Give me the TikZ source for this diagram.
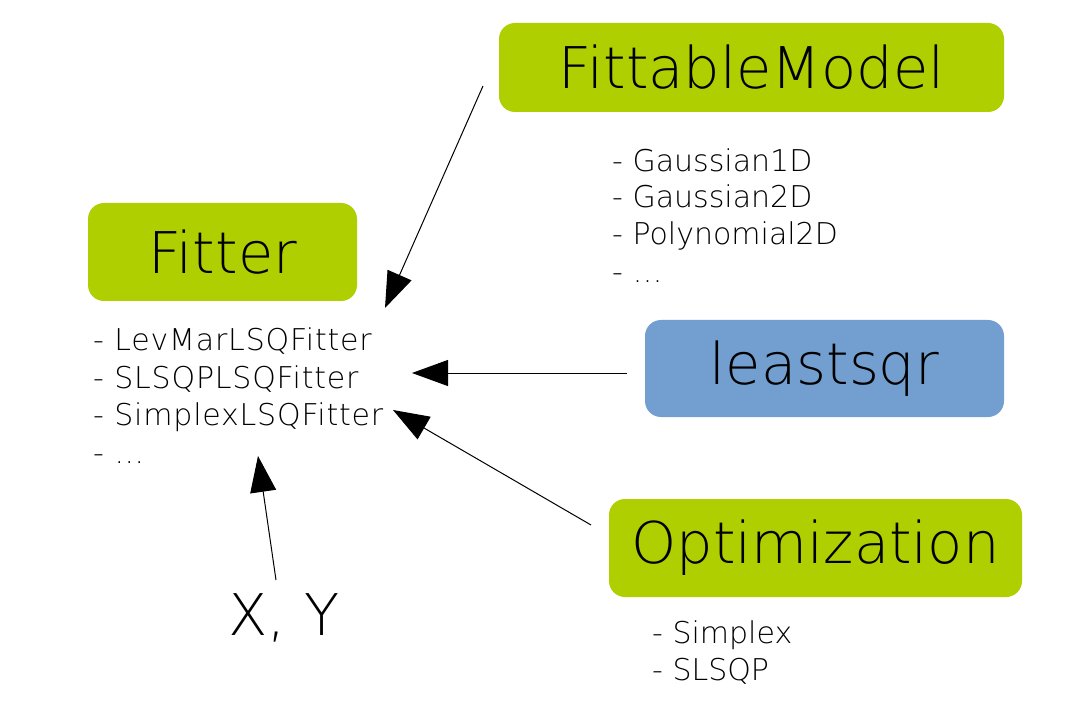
\documentclass[tikz,border=0pt]{standalone}
\usepackage{fontspec}
\setmainfont{DejaVu Sans ExtraLight}
\usetikzlibrary{arrows.meta}
\definecolor{lime}{RGB}{175,207,0}
\definecolor{sky}{RGB}{114,159,207}
\tikzset{
  box/.style={rounded corners=16pt, inner sep=0pt, font=\fontsize{57.5}{68}\selectfont},
  item/.style={anchor=base west, inner sep=0pt, font=\fontsize{30}{36}\selectfont},
  wideitem/.style={item, font=\fontsize{30}{36}\selectfont\addfontfeature{LetterSpace=2.7}},
  arr/.style={line width=1pt, -{Triangle[length=36pt,width=26pt]}}
}
\begin{document}
\begin{tikzpicture}[x=1pt,y=-1pt]
\useasboundingbox[fill=white] (0,0) rectangle (1070,708);
\node[box, fill=lime, minimum width=505pt, minimum height=89pt] (fm) at (751.5,67.5) {FittableModel};
\node[box, fill=lime, minimum width=269pt, minimum height=98pt] (fit) at (222.5,252) {Fitter};
\node[box, fill=sky, minimum width=359pt, minimum height=97pt] (lsq) at (824.5,368.5) {leastsqr};
\node[box, fill=lime, minimum width=413pt, minimum height=98pt] (opt) at (815.5,548) {Optimization};
\node[box, anchor=base] (xy) at (284,635) {X, Y};

\node[wideitem] (f1) at (93,350) {- LevMarLSQFitter};
\node[wideitem] (f2) at (93,388) {- SLSQPLSQFitter};
\node[wideitem] (f3) at (93,425) {- SimplexLSQFitter};
\node[wideitem] (f4) at (93,463) {- …};

\node[item] (g1) at (612,172) {- Gaussian1D};
\node[item] (g2) at (612,208) {- Gaussian2D};
\node[item] (g3) at (612,245) {- Polynomial2D};
\node[item] (g4) at (612,283) {- …};

\node[item] (o1) at (652,643) {- Simplex};
\node[item] (o2) at (652,680) {- SLSQP};

\coordinate (fmS) at (483,86);
\coordinate (fmE) at (385,308);
\coordinate (lsqS) at (627,373);
\coordinate (lsqE) at (412,373);
\coordinate (optS) at (591,525);
\coordinate (optE) at (393,410);
\coordinate (xyS) at (276,580);
\coordinate (xyE) at (258,456);
\draw[arr] (fmS) -- (fmE);
\draw[arr] (lsqS) -- (lsqE);
\draw[arr] (optS) -- (optE);
\draw[arr] (xyS) -- (xyE);
\end{tikzpicture}
\end{document}
